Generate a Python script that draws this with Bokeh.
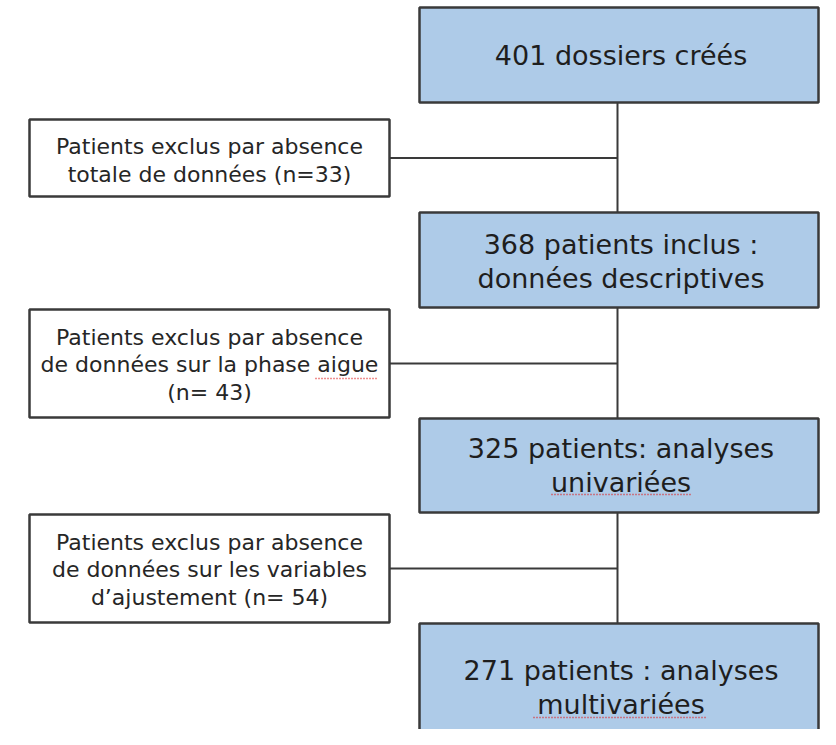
from bokeh.plotting import figure
from bokeh.models import Range1d
from bokeh.core.properties import value
from bokeh.embed import file_html
from bokeh.resources import INLINE

# --- content ---
main_counts = [401, 368, 325, 271]
main_labels = [
    "401 dossiers créés",
    "368 patients inclus :\ndonnées descriptives",
    "325 patients: analyses\nunivariées",
    "271 patients : analyses\nmultivariées",
]
excl_counts = [33, 43, 54]
excl_labels = [
    "Patients exclus par absence\ntotale de données (n=33)",
    "Patients exclus par absence\nde données sur la phase aigue\n(n= 43)",
    "Patients exclus par absence\nde données sur les variables\nd’ajustement (n= 54)",
]

# --- layout (page pixel coordinates) ---
main_left, main_right = 419, 818
main_top = [7, 212, 418, 623]
main_bottom = [102, 307, 512, 770]
main_text_y = [55, 261, 465, 687]

ex_left, ex_right = 29, 389
ex_top = [119, 309, 514]
ex_bottom = [196, 417, 622]
ex_text_y = [160, 364, 569]

spine_x = 617

FONT = value("DejaVu Sans")

p = figure(width=820, height=729, output_backend="svg", toolbar_location=None,
           x_range=Range1d(0, 820), y_range=Range1d(729, 0),
           min_border=0, outline_line_color=None)
p.axis.visible = False
p.grid.visible = False

# connectors
p.segment(x0=[spine_x], y0=[main_bottom[0]], x1=[spine_x], y1=[main_top[3]],
          line_color="#3a3a3a", line_width=2)
p.segment(x0=[ex_right] * 3, y0=[(t + b) / 2 for t, b in zip(ex_top, ex_bottom)],
          x1=[spine_x] * 3, y1=[(t + b) / 2 for t, b in zip(ex_top, ex_bottom)],
          line_color="#3a3a3a", line_width=2)

# main boxes
p.quad(left=[main_left] * 4, right=[main_right] * 4, top=main_top, bottom=main_bottom,
       fill_color="#aecbe8", line_color="#3a3a3a", line_width=2.5)
p.text(x=[(main_left + main_right) / 2 + 2] * 4, y=main_text_y, text=main_labels,
       text_align="center", text_baseline="middle", text_font=FONT,
       text_font_size="27px", text_color="#1e1e1e", text_line_height=1.08)

# exclusion boxes
p.quad(left=[ex_left] * 3, right=[ex_right] * 3, top=ex_top, bottom=ex_bottom,
       fill_color="white", line_color="#3a3a3a", line_width=2.5)
p.text(x=[(ex_left + ex_right) / 2] * 3, y=ex_text_y, text=excl_labels,
       text_align="center", text_baseline="middle", text_font=FONT,
       text_font_size="22px", text_color="#262626", text_line_height=1.1)

# spell-check style underlines
p.segment(x0=[315, 551, 533], y0=[378, 494, 717], x1=[378, 690, 705], y1=[378, 494, 717],
          line_color="#e02020", line_width=1.5, line_dash="1 2")

open("out.html", "w").write(file_html(p, INLINE))
